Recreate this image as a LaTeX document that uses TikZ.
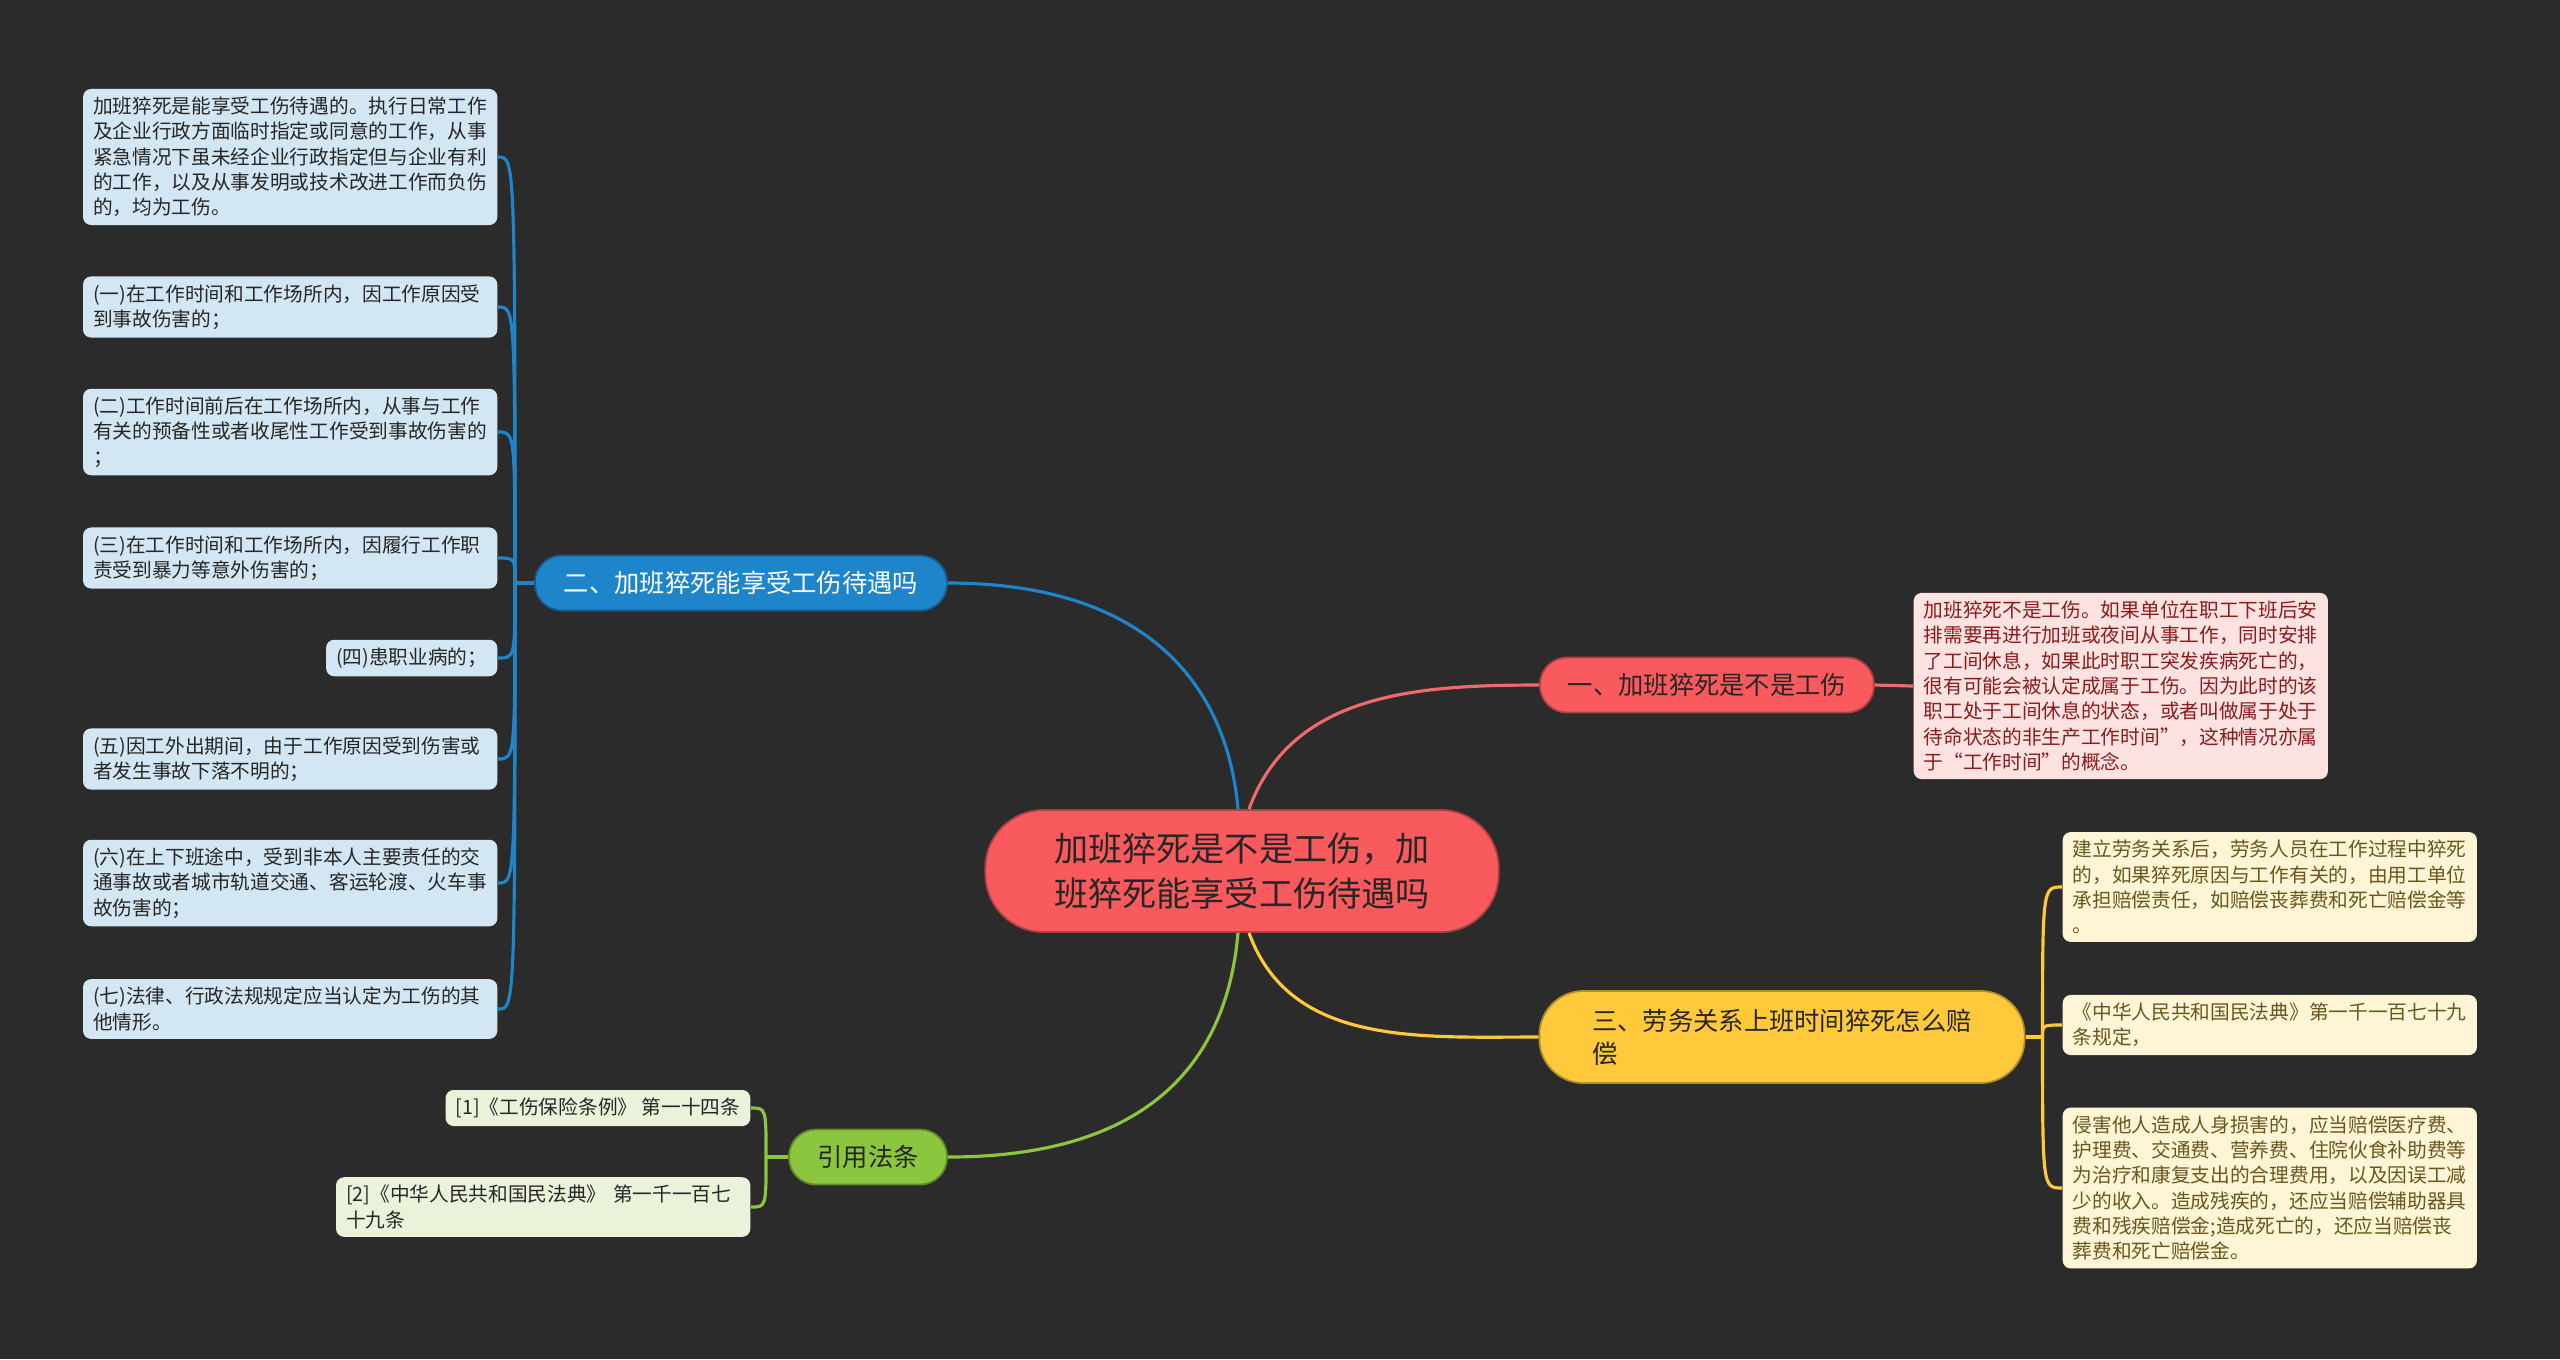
\documentclass[tikz,border=0pt]{standalone}
\usepackage{fontspec}
\setmainfont{Noto Sans CJK SC}

\definecolor{bgdark}{HTML}{2B2B2B}
\definecolor{rootred}{HTML}{F95A5E}
\definecolor{linered}{HTML}{F06A6D}
\definecolor{leafpink}{HTML}{FDE2E2}
\definecolor{textpink}{HTML}{8A1C1C}
\definecolor{mainblue}{HTML}{1F85CB}
\definecolor{leafblue}{HTML}{D3E6F4}
\definecolor{mainyellow}{HTML}{FFC93C}
\definecolor{leafyellow}{HTML}{FDF5D6}
\definecolor{textyellow}{HTML}{6B561D}
\definecolor{maingreen}{HTML}{8CC63F}
\definecolor{leafgreen}{HTML}{EAF3DA}
\definecolor{textdark}{HTML}{262626}

\newcommand\leaftext{\fontsize{5.6pt}{7.2pt}\selectfont}
\newcommand\branchtext{\fontsize{7.2pt}{9.3pt}\selectfont}
\newcommand\roottext{\fontsize{9.7pt}{12.6pt}\selectfont}

\begin{document}
\begin{tikzpicture}[x=0.01cm, y=-0.01cm,
    leaf/.style={rounded corners=0.08cm, inner xsep=0.1cm, inner ysep=0.08cm,
        align=left, font=\leaftext},
    wideleaf/.style={leaf, text width=3.94cm},
    branch/.style={rounded corners=0.27cm, minimum height=0.55cm,
        font=\branchtext, inner xsep=0.25cm, line width=0.5pt},
    link/.style={line width=0.9pt}]

    \fill[bgdark] (0,0) rectangle (2560,1359);
    \useasboundingbox (0,0) rectangle (2560,1359);

    % centre and main branches
    \node[fill=rootred, draw=rootred!70!black, line width=0.5pt, rounded corners=0.58cm,
        minimum width=5.13cm, minimum height=1.22cm, align=center,
        font=\roottext, text=textdark] (root) at (1242,871)
        {加班猝死是不是工伤，加\\班猝死能享受工伤待遇吗};

    \node[branch, fill=rootred, draw=rootred!70!black, minimum width=3.34cm, text=textdark]
        (injury) at (1707,685) {一、加班猝死是不是工伤};
    \node[branch, fill=mainblue, draw=mainblue!70!black, minimum width=4.12cm, text=white]
        (benefit) at (741,583) {二、加班猝死能享受工伤待遇吗};
    \node[branch, fill=mainyellow, draw=mainyellow!70!black, minimum width=4.85cm,
        minimum height=0.92cm, rounded corners=0.44cm, align=left, text=textdark]
        (labour) at (1782,1037) {三、劳务关系上班时间猝死怎么赔\\偿};
    \node[branch, fill=maingreen, draw=maingreen!70!black, minimum width=1.58cm, text=textdark]
        (laws) at (868,1157) {引用法条};

    % right: not an injury
    \node[wideleaf, fill=leafpink, text=textpink, anchor=west] (injuryA) at (1913,686)
        {加班猝死不是工伤。如果单位在职工下班后安\\
         排需要再进行加班或夜间从事工作，同时安排\\
         了工间休息，如果此时职工突发疾病死亡的，\\
         很有可能会被认定成属于工伤。因为此时的该\\
         职工处于工间休息的状态，或者叫做属于处于\\
         待命状态的非生产工作时间”，这种情况亦属\\
         于“工作时间”的概念。};

    % left: cases of injury
    \tikzset{bleaf/.style={wideleaf, fill=leafblue, text=textdark, anchor=east}}
    \node[bleaf] (benefitA) at (498,157)
        {加班猝死是能享受工伤待遇的。执行日常工作\\
         及企业行政方面临时指定或同意的工作，从事\\
         紧急情况下虽未经企业行政指定但与企业有利\\
         的工作，以及从事发明或技术改进工作而负伤\\
         的，均为工伤。};
    \node[bleaf] (benefitB) at (498,307)
        {(一)在工作时间和工作场所内，因工作原因受\\到事故伤害的；};
    \node[bleaf] (benefitC) at (498,432)
        {(二)工作时间前后在工作场所内，从事与工作\\有关的预备性或者收尾性工作受到事故伤害的\\；};
    \node[bleaf] (benefitD) at (498,558)
        {(三)在工作时间和工作场所内，因履行工作职\\责受到暴力等意外伤害的；};
    \node[leaf, fill=leafblue, text=textdark, anchor=east] (benefitE) at (498,658)
        {(四)患职业病的；};
    \node[bleaf] (benefitF) at (498,759)
        {(五)因工外出期间，由于工作原因受到伤害或\\者发生事故下落不明的；};
    \node[bleaf] (benefitG) at (498,883)
        {(六)在上下班途中，受到非本人主要责任的交\\通事故或者城市轨道交通、客运轮渡、火车事\\故伤害的；};
    \node[bleaf] (benefitH) at (498,1009)
        {(七)法律、行政法规规定应当认定为工伤的其\\他情形。};

    % right: compensation
    \tikzset{yleaf/.style={wideleaf, fill=leafyellow, text=textyellow, anchor=west}}
    \node[yleaf] (labourA) at (2062,887)
        {建立劳务关系后，劳务人员在工作过程中猝死\\
         的，如果猝死原因与工作有关的，由用工单位\\
         承担赔偿责任，如赔偿丧葬费和死亡赔偿金等\\。};
    \node[yleaf] (labourB) at (2062,1025)
        {《中华人民共和国民法典》第一千一百七十九\\条规定，};
    \node[yleaf] (labourC) at (2062,1188)
        {侵害他人造成人身损害的，应当赔偿医疗费、\\
         护理费、交通费、营养费、住院伙食补助费等\\
         为治疗和康复支出的合理费用，以及因误工减\\
         少的收入。造成残疾的，还应当赔偿辅助器具\\
         费和残疾赔偿金;造成死亡的，还应当赔偿丧\\
         葬费和死亡赔偿金。};

    % bottom: cited laws
    \node[leaf, fill=leafgreen, text=textdark, anchor=east] (lawsA) at (751,1108)
        {[1]《工伤保险条例》 第一十四条};
    \node[wideleaf, fill=leafgreen, text=textdark, anchor=east] (lawsB) at (751,1207)
        {[2]《中华人民共和国民法典》 第一千一百七\\十九条};

    % connectors
    \draw[link, linered] ([xshift=0.07cm]root.north)
        to[out=70, in=180] (injury.west);
    \draw[link, mainblue] ([xshift=-0.04cm]root.north)
        to[out=95, in=0, out looseness=0.85, in looseness=1.4] (benefit.east);
    \draw[link, mainyellow] ([xshift=0.07cm]root.south)
        to[out=-70, in=180] (labour.west);
    \draw[link, maingreen] ([xshift=-0.04cm]root.south)
        to[out=-95, in=0, in looseness=1.3] (laws.east);

    \draw[link, linered] (injury.east) -- (injuryA.west);

    \draw[link, mainblue] (benefit.west) -- ++(-0.19cm,0) coordinate (benefitS);
    \foreach \leafname in {benefitA,benefitB,benefitC,benefitD,benefitE,benefitF,benefitG,benefitH} {
        \draw[link, mainblue] (benefitS)
            .. controls (benefitS |- \leafname.east) .. (\leafname.east);
    }

    \draw[link, mainyellow] (labour.east) -- ++(0.17cm,0) coordinate (labourS);
    \foreach \leafname in {labourA,labourB,labourC} {
        \draw[link, mainyellow] (labourS)
            .. controls (labourS |- \leafname.west) .. (\leafname.west);
    }

    \draw[link, maingreen] (laws.west) -- ++(-0.22cm,0) coordinate (lawsS);
    \foreach \leafname in {lawsA,lawsB} {
        \draw[link, maingreen] (lawsS)
            .. controls (lawsS |- \leafname.east) .. (\leafname.east);
    }
\end{tikzpicture}
\end{document}
